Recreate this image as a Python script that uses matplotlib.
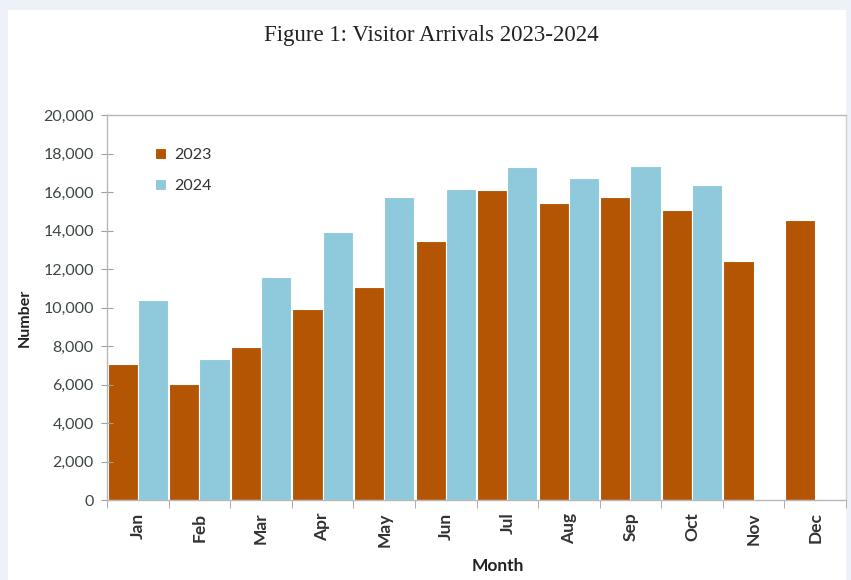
import numpy as np
import matplotlib.pyplot as plt
from matplotlib.patches import Rectangle
from matplotlib.ticker import FuncFormatter, FixedLocator

months = ['Jan', 'Feb', 'Mar', 'Apr', 'May', 'Jun',
          'Jul', 'Aug', 'Sep', 'Oct', 'Nov', 'Dec']
arrivals_2023 = [7050, 6030, 7940, 9910, 11080, 13450,
                 16120, 15450, 15720, 15050, 12430, 14560]
arrivals_2024 = [10390, 7320, 11570, 13940, 15760, 16160,
                 17320, 16710, 17360, 16360]

c2023 = '#b35502'
c2024 = '#8ecadc'

plt.rcParams['font.family'] = ['Lato', 'DejaVu Sans']

fig = plt.figure(figsize=(8.51, 5.8), dpi=100, facecolor='#edf2f9')
# white card behind the chart
fig.patches.append(Rectangle((8 / 851, 0), 838 / 851, 570 / 580,
                             transform=fig.transFigure, facecolor='white',
                             edgecolor='none', zorder=-1))

ax = fig.add_axes([107 / 851, 80 / 580, 739 / 851, 385 / 580])
ax.set_zorder(1)
ax.set_facecolor('white')

x = np.arange(len(months))
w = 0.49
ax.bar(x[:len(arrivals_2023)] - w / 2, arrivals_2023, w, color=c2023,
       edgecolor='white', linewidth=0.8, label='2023')
ax.bar(x[:len(arrivals_2024)] + w / 2, arrivals_2024, w, color=c2024,
       edgecolor='white', linewidth=0.8, label='2024')

ax.set_xlim(-0.5, len(months) - 0.5)
ax.set_ylim(0, 20000)
ax.set_yticks(np.arange(0, 20001, 2000))
ax.yaxis.set_major_formatter(FuncFormatter(lambda v, p: f'{int(v):,}'))

# month names centred, tick marks on the category boundaries
ax.set_xticks(x)
ax.set_xticklabels(months, rotation=90, fontsize=12.5, fontweight='bold',
                   color='#333333')
ax.tick_params(axis='x', length=0, pad=9)
ax.xaxis.set_minor_locator(FixedLocator(np.arange(-0.5, len(months), 1)))
ax.tick_params(axis='x', which='minor', length=6, color='#a0a0a0',
               direction='out')
ax.tick_params(axis='y', direction='inout', length=9, color='#a0a0a0',
               labelsize=11.5, labelcolor='#3c4646', pad=5)

for s in ['left', 'bottom', 'top', 'right']:
    ax.spines[s].set_color('#b8b8b8')
    ax.spines[s].set_linewidth(1.0)
ax.spines['right'].set_color('#d0d0d0')

ax.set_ylabel('Number', fontsize=11.5, fontweight='bold', color='#222222',
              va='center')
ax.yaxis.set_label_coords(-0.111, 0.473)
ax.set_xlabel('Month', fontsize=12.5, fontweight='bold', color='#222222',
              va='center')
ax.xaxis.set_label_coords(0.529, -0.171)

leg = ax.legend(loc='upper left', bbox_to_anchor=(0.045, 0.952), frameon=False,
                fontsize=11.5, handlelength=0.7, handleheight=0.7,
                handletextpad=0.5, labelspacing=1.05)
for t in leg.get_texts():
    t.set_color('#333333')

fig.text(431 / 851, 1 - 35 / 580, 'Figure 1: Visitor Arrivals 2023-2024',
         ha='center', va='center', fontsize=16.5, family='Liberation Serif',
         color='#222222')

fig.savefig('out.png', dpi=100, facecolor=fig.get_facecolor())
